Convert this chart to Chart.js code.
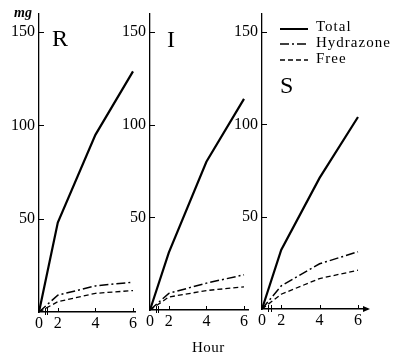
<!DOCTYPE html>
<html>
<head>
<meta charset="utf-8">
<script src="https://cdn.jsdelivr.net/npm/chart.js@4.4.0/dist/chart.umd.min.js"></script>
<style>
  html, body { margin: 0; padding: 0; background: #fff; }
  #wrap { position: relative; width: 402px; height: 358px; overflow: hidden;
          font-family: "Liberation Serif", "DejaVu Serif", serif; color: #000; }
  #wrap canvas { position: absolute; left: 0; top: 0; }
  .txt { position: absolute; white-space: nowrap; line-height: 1; }
  .leg { font-size: 15px; letter-spacing: 1px; }
</style>
</head>
<body>
<div id="wrap">
  <canvas id="chartR" width="402" height="358"></canvas>
  <canvas id="chartI" width="402" height="358"></canvas>
  <canvas id="chartS" width="402" height="358"></canvas>

  <div class="txt" style="left:14px;top:6px;font-size:14px;font-style:italic;font-weight:bold;">mg</div>
  <div class="txt" style="left:52px;top:26px;font-size:24px;">R</div>
  <div class="txt" style="left:167px;top:27px;font-size:24px;">I</div>
  <div class="txt" style="left:280px;top:73px;font-size:24px;">S</div>

  <svg style="position:absolute;left:0;top:0;" width="402" height="358">
    <line x1="280" y1="29" x2="308" y2="29" stroke="#000" stroke-width="2"/>
    <line x1="280" y1="44" x2="308" y2="44" stroke="#000" stroke-width="1.5" stroke-dasharray="9 3 2 3"/>
    <line x1="280" y1="60" x2="308" y2="60" stroke="#000" stroke-width="1.3" stroke-dasharray="5 3"/>
  </svg>
  <div class="txt leg" style="left:316px;top:19px;">Total</div>
  <div class="txt leg" style="left:316px;top:35px;">Hydrazone</div>
  <div class="txt leg" style="left:316px;top:51px;">Free</div>

  <div class="txt" style="left:192px;top:340px;font-size:15px;letter-spacing:0.5px;">Hour</div>
</div>

<script>
// hours sampled, axis is broken between 0 and 2
const hours = [0, 2, 4, 6];
const xTicks = [0, 2, 4, 6];
const yTicks = [50, 100, 150];

const rTotal = [0, 48, 95, 129];
const rHydrazone = [0, 9, 14, 16];
const rFree = [0, 5.5, 10, 11.5];

const iTotal = [0, 31, 80, 114];
const iHydrazone = [0, 9, 14.5, 19];
const iFree = [0, 7, 10.5, 12.5];

const sTotal = [0, 32, 71, 104];
const sHydrazone = [0, 12.5, 24.5, 31];
const sFree = [0, 8, 16.5, 21];

// 0 h sits at the axis, the break squeezes 0..2 into one unit
const pos = h => h === 0 ? 1 : h;
const pts = vals => vals.map((v, i) => ({ x: pos(hours[i]), y: v }));

const INK = '#000';
const Y_W = 30, X_H = 22, PX_PER_MG = 1.867, Y_MAX = 160;

const axisMarks = {
  id: 'axisMarks',
  afterDraw(chart, args, opts) {
    const ctx = chart.ctx;
    const xs = chart.scales.x, ys = chart.scales.y;
    const a = chart.chartArea;
    ctx.save();
    ctx.strokeStyle = INK;
    ctx.lineWidth = 1;
    ctx.beginPath();
    yTicks.forEach(v => {
      const py = Math.round(ys.getPixelForValue(v)) + 0.5;
      ctx.moveTo(a.left, py);
      ctx.lineTo(a.left + 5, py);
    });
    xTicks.forEach(h => {
      if (h === 0) return;
      const px = Math.round(xs.getPixelForValue(pos(h))) + 0.5;
      ctx.moveTo(px, a.bottom);
      ctx.lineTo(px, a.bottom - 4);
    });
    // break marks
    [1.3, 1.45].forEach(v => {
      const px = Math.round(xs.getPixelForValue(v)) + 0.5;
      ctx.moveTo(px, a.bottom - 4);
      ctx.lineTo(px, a.bottom + 3);
    });
    ctx.stroke();
    if (opts.arrow) {
      ctx.fillStyle = INK;
      ctx.beginPath();
      ctx.moveTo(a.right + 3, a.bottom);
      ctx.lineTo(a.right - 4, a.bottom - 3);
      ctx.lineTo(a.right - 4, a.bottom + 3);
      ctx.closePath();
      ctx.fill();
    }
    ctx.restore();
  }
};

function makeChart(id, box, total, hydrazone, free, arrow) {
  const top = box.y0 - Y_MAX * PX_PER_MG;
  const xMax = 6 + (box.right - box.x6) / ((box.x6 - box.left) / 5);
  const ctx = document.getElementById(id).getContext('2d');
  return new Chart(ctx, {
    type: 'line',
    data: {
      datasets: [
        { label: 'Total', data: pts(total), borderColor: INK, borderWidth: 2.2 },
        { label: 'Hydrazone', data: pts(hydrazone), borderColor: INK, borderWidth: 1.5, borderDash: [9, 3, 2, 3] },
        { label: 'Free', data: pts(free), borderColor: INK, borderWidth: 1.3, borderDash: [5, 3] }
      ].map(d => Object.assign(d, { pointRadius: 0, fill: false, tension: 0, clip: false }))
    },
    options: {
      responsive: false,
      animation: false,
      devicePixelRatio: 1,
      layout: {
        padding: { left: box.left - Y_W, right: 402 - box.right, top: top, bottom: 358 - box.y0 - X_H }
      },
      plugins: { legend: { display: false }, tooltip: { enabled: false }, axisMarks: { arrow: arrow } },
      scales: {
        x: {
          type: 'linear', min: 1, max: xMax,
          grid: { display: false, drawTicks: false },
          border: { display: true, color: INK, width: 1.5 },
          afterBuildTicks: s => { s.ticks = xTicks.map(h => ({ value: pos(h) })); },
          afterFit: s => { s.height = X_H; },
          ticks: {
            padding: 2, color: INK, maxRotation: 0,
            font: { family: 'Liberation Serif', size: 16 },
            callback: v => String(xTicks[xTicks.map(pos).indexOf(v)])
          }
        },
        y: {
          type: 'linear', min: 0, max: Y_MAX,
          grid: { display: false, drawTicks: false },
          border: { display: true, color: INK, width: 1.3 },
          afterBuildTicks: s => { s.ticks = yTicks.map(v => ({ value: v })); },
          afterFit: s => { s.width = Y_W; },
          ticks: { padding: 4, color: INK, font: { family: 'Liberation Serif', size: 16 } }
        }
      }
    },
    plugins: [axisMarks]
  });
}

makeChart('chartR', { left: 39, x6: 133, right: 135, y0: 312 }, rTotal, rHydrazone, rFree, false);
makeChart('chartI', { left: 150, x6: 244, right: 248, y0: 310 }, iTotal, iHydrazone, iFree, false);
makeChart('chartS', { left: 262, x6: 358, right: 367, y0: 309 }, sTotal, sHydrazone, sFree, true);
</script>
</body>
</html>
